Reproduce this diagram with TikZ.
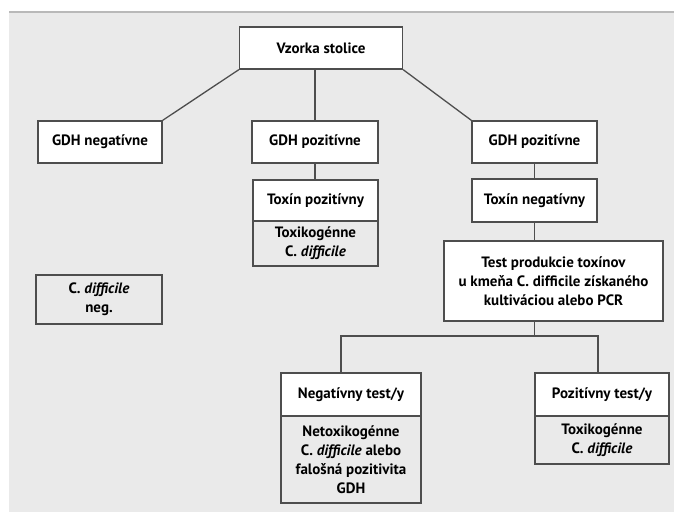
\documentclass[tikz,border=0pt]{standalone}
\usepackage{fontspec}
\setmainfont{PT Sans}
\usepackage{tikz}
\definecolor{backdrop}{HTML}{EAEAEA}
\definecolor{frame}{HTML}{4E4E4E}
\newcommand{\cdiff}{C. \textit{difficile}}

\begin{document}
\begin{tikzpicture}[x=1pt,y=-1pt,
    font=\fontsize{15}{19}\selectfont\bfseries,
    box/.style={draw=frame,line width=1.3pt,fill=white,align=center,inner sep=0pt},
    lowbox/.style={box,fill=backdrop},
    link/.style={draw=frame,line width=1.3pt}]
					\useasboundingbox (0,0) rectangle (674,512);
					\fill[white] (0,0) rectangle (674,512);
					\fill[backdrop] (9,12) rectangle (674,512);
					\draw[gray!55,line width=1.2pt] (9,12) -- (674,12);
					
					\coordinate (c1) at (321,48);
					\coordinate (c2) at (100,142);
					\coordinate (c3) at (315,142);
					\coordinate (c4) at (534.5,142);
					\coordinate (c5) at (315.5,200.5);
					\coordinate (c6) at (315.5,243.5);
					\coordinate (c7) at (534.5,200.5);
					\coordinate (c8) at (553.5,281);
					\coordinate (c9) at (99,299.5);
					\coordinate (c10) at (351,394.5);
					\coordinate (c11) at (351,459.5);
					\coordinate (c12) at (602,394.5);
					\coordinate (c13) at (602,440);
					\coordinate (nl) at (341,336);
					\coordinate (nr) at (598,336);
					
					\node (vzorka) at (c1) [box,minimum width=163,minimum height=42] {Vzorka stolice};
					\node (gdhneg) at (c2) [box,minimum width=124,minimum height=42] {GDH negatívne};
					\node (gdhpoz) at (c3) [box,minimum width=126,minimum height=42] {GDH pozitívne};
					\node (gdhpoz2) at (c4) [box,minimum width=125,minimum height=42] {GDH pozitívne};
					\node (toxpoz) at (c5) [box,minimum width=125,minimum height=41] {Toxín pozitívny};
					\node (toxpozlow) at (c6) [lowbox,minimum width=125,minimum height=45] {Toxikogénne\\\cdiff};
					\node (toxneg) at (c7) [box,minimum width=125,minimum height=43] {Toxín negatívny};
					\node (test) at (c8) [box,minimum width=219,minimum height=80] {Test produkcie toxínov\\u kmeňa C. difficile získaného\\kultiváciou alebo PCR};
					\node (cneg) at (c9) [lowbox,minimum width=126,minimum height=49] {\cdiff\\neg.};
					\node (negtest) at (c10) [box,minimum width=140,minimum height=43] {Negatívny test/y};
					\node (negtestlow) at (c11) [lowbox,minimum width=140,minimum height=87] {Netoxikogénne\\\cdiff{} alebo\\falošná pozitivita\\GDH};
					\node (poztest) at (c12) [box,minimum width=134,minimum height=43] {Pozitívny test/y};
					\node (poztestlow) at (c13) [lowbox,minimum width=134,minimum height=48] {Toxikogénne\\\cdiff};
					
					\draw[link] (vzorka.south west) -- (gdhneg.north east);
					\draw[link] (vzorka.south east) -- (gdhpoz2.north west);
					\draw[link] (gdhpoz.north) -- (gdhpoz.north |- vzorka.south);
					\draw[link] (gdhpoz.south) -- (gdhpoz.south |- toxpoz.north);
					\draw[link] (gdhpoz2.south) -- (toxneg.north);
					\draw[link] (toxneg.south) -- (toxneg.south |- test.north);
					\draw[link] (toxneg.south |- test.south) -- (toxneg.south |- nl);
					\draw[link] (nl |- negtest.north) -- (nl) -- (nr) -- (nr |- poztest.north);
				\end{tikzpicture}
\end{document}
